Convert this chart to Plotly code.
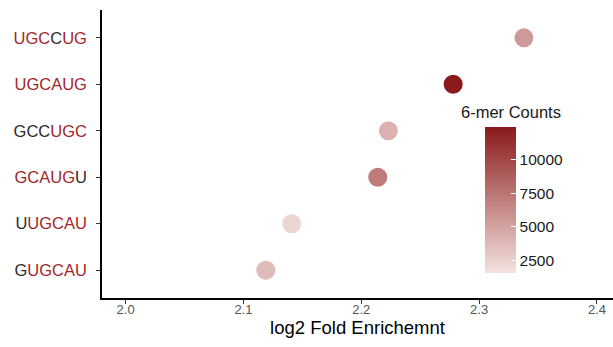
import plotly.graph_objects as go

kmers = ["GUGCAU", "UUGCAU", "GCAUGU", "GCCUGC", "UGCAUG", "UGCCUG"]
# which letters are highlighted red (1) vs dark (0)
masks = ["011111", "011111", "111110", "000111", "111111", "111011"]
log2fe = [2.119, 2.141, 2.214, 2.223, 2.278, 2.338]
counts = [3700, 2300, 7200, 4200, 12400, 5500]
xticks = [2.0, 2.1, 2.2, 2.3, 2.4]
cbar_ticks = [2500, 5000, 7500, 10000]

RED = "#A3262A"
DARK = "#2b2b2b"

def colored(k, m):
    out = ""
    for ch, f in zip(k, m):
        out += "<span style='color:%s'>%s</span>" % (RED if f == "1" else DARK, ch)
    return out

ypos = list(range(1, len(kmers) + 1))
ticktext = [colored(k, m) for k, m in zip(kmers, masks)]

fig = go.Figure(go.Scatter(
    x=log2fe, y=ypos, mode="markers",
    marker=dict(
        size=19, color=counts, cmin=1600, cmax=12450,
        colorscale=[[0, "#F4E2DF"], [1, "#8A1A1B"]],
        line=dict(width=0),
        colorbar=dict(
            x=0.7495, xanchor="left", y=0.3415, yanchor="middle",
            len=146, lenmode="pixels", thickness=31,
            xpad=0, ypad=0, outlinewidth=0,
            tickvals=cbar_ticks, tickformat="d",
            ticks="inside", ticklen=5, tickcolor="white",
            tickfont=dict(size=15.5, color="#1a1a1a"),
        ),
    ),
    showlegend=False,
))

fig.add_annotation(
    text="6-mer Counts", xref="paper", yref="paper",
    x=0.902, y=0.6446, xanchor="right", yanchor="middle",
    showarrow=False, font=dict(size=16.5, color="#1a1a1a"),
)

fig.update_layout(
    width=613, height=347,
    margin=dict(l=102, r=0, t=10, b=49),
    paper_bgcolor="white", plot_bgcolor="white",
    font=dict(family="Liberation Sans, Arial, sans-serif"),
)
fig.update_xaxes(
    range=[1.98, 2.4136], tickvals=xticks, ticktext=["%.1f" % v for v in xticks],
    showgrid=False, zeroline=False, showline=True, linecolor="black", linewidth=1.5,
    ticks="outside", ticklen=4, tickcolor="#333", tickfont=dict(size=13, color="#555"),
    ticklabelstandoff=-5,
    title=dict(text="log2 Fold Enrichemnt", font=dict(size=18.5, color="black"), standoff=2),
)
fig.update_yaxes(
    range=[0.4, 6.6], tickvals=ypos, ticktext=ticktext,
    showgrid=False, zeroline=False, showline=True, linecolor="black", linewidth=1.5,
    ticks="outside", ticklen=4, tickcolor="#333", tickfont=dict(size=16.5),
    ticklabelstandoff=6,
)

fig.write_html("out.html")
